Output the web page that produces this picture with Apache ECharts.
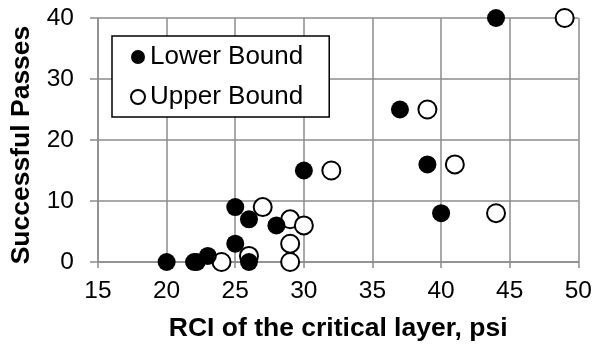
<!DOCTYPE html>
<html>
<head>
<meta charset="utf-8">
<title>Successful Passes vs RCI</title>
<script src="https://cdn.jsdelivr.net/npm/echarts@6/dist/echarts.min.js"></script>
<style>
    html, body { margin: 0; padding: 0; background: #fff; }
    #chart { width: 595px; height: 347px; }
</style>
</head>
<body>
<div id="chart"></div>
<script>
    // RCI (psi) and successful passes
    var lowerRci    = [20, 22, 22.2, 23, 25, 25, 26, 26, 28, 30, 37, 39, 40, 44];
    var lowerPasses = [0, 0, 0, 1, 3, 9, 7, 0, 6, 15, 25, 16, 8, 40];
    var upperRci    = [24, 26, 27, 29, 29, 29, 30, 32, 39, 41, 44, 49];
    var upperPasses = [0, 1, 9, 7, 3, 0, 6, 15, 25, 16, 8, 40];

    function pairs(xs, ys) {
        var out = [];
        for (var i = 0; i < xs.length; i++) {
            out.push([xs[i], ys[i]]);
        }
        return out;
    }

    var font = 'Liberation Sans, Arial, sans-serif';
    var gridColor = '#8c8c8c';

    var myChart = echarts.init(document.getElementById('chart'));
    var option = {
        animation: false,
        textStyle: { fontFamily: font },
        grid: { left: 97, right: 14, top: 18, bottom: 85 },
        legend: {
            orient: 'vertical',
            left: 112,
            top: 36,
            padding: [8, 26, 7, 18],
            itemGap: 14,
            itemWidth: 14,
            itemHeight: 14,
            backgroundColor: '#fff',
            borderColor: '#000',
            borderWidth: 1.5,
            textStyle: { fontSize: 26, color: '#000', fontFamily: font },
            data: [
                { name: 'Lower Bound', icon: 'circle' },
                { name: 'Upper Bound', icon: 'circle' }
            ]
        },
        xAxis: {
            type: 'value',
            min: 15, max: 50, interval: 5,
            name: 'RCI of the critical layer, psi',
            nameLocation: 'middle',
            nameGap: 53,
            nameTextStyle: { fontSize: 26.5, fontWeight: 'bold', color: '#000', fontFamily: font },
            axisLine: { onZero: false, lineStyle: { color: gridColor, width: 1.5 } },
            axisTick: { show: true, length: 6, lineStyle: { color: gridColor, width: 1.5 } },
            axisLabel: { fontSize: 24.5, color: '#000', margin: 17 },
            splitLine: { show: true, lineStyle: { color: gridColor, width: 1.5 } }
        },
        yAxis: {
            type: 'value',
            min: 0, max: 40, interval: 10,
            name: 'Successful Passes',
            nameLocation: 'middle',
            nameGap: 63,
            nameTextStyle: { fontSize: 26.5, fontWeight: 'bold', color: '#000', fontFamily: font, padding: [0, 10, 0, 0] },
            axisLine: { show: true, onZero: false, lineStyle: { color: gridColor, width: 1.5 } },
            axisTick: { show: true, length: 8, lineStyle: { color: gridColor, width: 1.5 } },
            axisLabel: { fontSize: 24.5, color: '#000', margin: 24 },
            splitLine: { show: true, lineStyle: { color: gridColor, width: 1.5 } }
        },
        series: [
            {
                name: 'Lower Bound',
                type: 'scatter',
                symbol: 'circle',
                symbolSize: 18,
                itemStyle: { color: '#000', borderColor: '#000', borderWidth: 0, opacity: 1 },
                data: pairs(lowerRci, lowerPasses),
                z: 3
            },
            {
                name: 'Upper Bound',
                type: 'scatter',
                symbol: 'circle',
                symbolSize: 18,
                itemStyle: { color: '#fff', borderColor: '#000', borderWidth: 2, opacity: 1 },
                data: pairs(upperRci, upperPasses),
                z: 2
            }
        ]
    };
    myChart.setOption(option);
</script>
</body>
</html>
